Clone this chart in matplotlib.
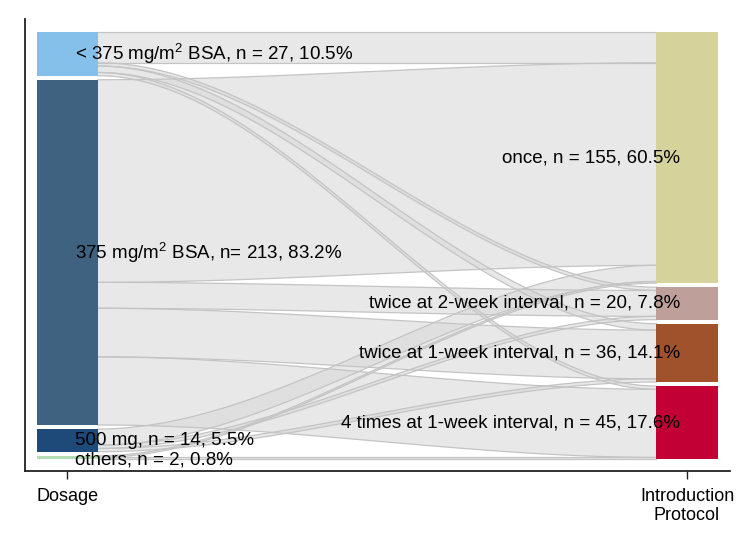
import numpy as np
import matplotlib
matplotlib.use("Agg")
import matplotlib.pyplot as plt
from matplotlib.patches import Rectangle, Polygon

plt.rcParams['font.family'] = ['Liberation Sans', 'DejaVu Sans']
plt.rcParams['mathtext.fontset'] = 'custom'
plt.rcParams['mathtext.rm'] = 'Liberation Sans'

# --- data ---
dosage = ['< 375 mg/m2 BSA', '375 mg/m2 BSA', '500 mg', 'others']
dosage_n = [27, 213, 14, 2]
dosage_labels = ['< 375 mg/m$^2$ BSA, n = 27, 10.5%',
                 '375 mg/m$^2$ BSA, n= 213, 83.2%',
                 '500 mg, n = 14, 5.5%',
                 'others, n = 2, 0.8%']
dosage_colors = ['#84c0ea', '#3e6280', '#1d4a78', '#b3deb3']

protocol = ['once', 'twice 2-week', 'twice 1-week', '4 times 1-week']
protocol_n = [155, 20, 36, 45]
protocol_labels = ['once, n = 155, 60.5%',
                   'twice at 2-week interval, n = 20, 7.8%',
                   'twice at 1-week interval, n = 36, 14.1%',
                   '4 times at 1-week interval, n = 45, 17.6%']
protocol_colors = ['#d6d29c', '#bf9f9a', '#a0522d', '#c20035']

# flows[i][j]: dosage i -> protocol j (estimated from the figure)
flows = [[19, 2, 4, 2],
         [125, 16, 30, 42],
         [10, 2, 2, 0],
         [1, 0, 0, 1]]

axis_labels = ['Dosage', 'Introduction\nProtocol']

GAP = 2.5
W = 0.0985


def stack(counts):
    tops, y = [], 0.0
    for c in counts:
        tops.append(y)
        y += c + GAP
    return tops


fig = plt.figure(figsize=(7.5, 5.46), dpi=100)
ax = fig.add_axes([25 / 750, 75 / 546, 705 / 750, 452 / 546])

left_tops = stack(dosage_n)
right_tops = stack(protocol_n)

# flow offsets: left side ordered by target, right side ordered by source
left_off = list(left_tops)
right_off = list(right_tops)
bands = []
for i in range(len(dosage)):
    for j in range(len(protocol)):
        v = flows[i][j]
        if v == 0:
            continue
        bands.append((i, j, left_off[i], v))
        left_off[i] += v
right_pos = {}
for j in range(len(protocol)):
    for i in range(len(dosage)):
        v = flows[i][j]
        if v == 0:
            continue
        right_pos[(i, j)] = right_off[j]
        right_off[j] += v

x0, x1 = W / 2, 1 - W / 2
t = np.linspace(0, 1, 100)
s = t * t * (3 - 2 * t)
xs = x0 + (x1 - x0) * t
for i, j, ly, v in bands:
    ry = right_pos[(i, j)]
    top = ly + (ry - ly) * s
    bot = top + v
    pts = np.vstack([np.column_stack([xs, top]), np.column_stack([xs[::-1], bot[::-1]])])
    ax.add_patch(Polygon(pts, closed=True, facecolor='#d9d9d9', alpha=0.6,
                         edgecolor='none', zorder=1))
    ax.plot(xs, top, color='#c4c4c4', lw=0.9, zorder=2)
    ax.plot(xs, bot, color='#c4c4c4', lw=0.9, zorder=2)

# nodes
for k in range(len(dosage)):
    ax.add_patch(Rectangle((-W / 2, left_tops[k]), W, dosage_n[k],
                           facecolor=dosage_colors[k], edgecolor='none', zorder=3))
    ax.text(0.012, left_tops[k] + dosage_n[k] / 2 + (1.5 if k == 3 else 0),
            dosage_labels[k], ha='left', va='center', fontsize=13.5, zorder=5)
for k in range(len(protocol)):
    ax.add_patch(Rectangle((1 - W / 2, right_tops[k]), W, protocol_n[k],
                           facecolor=protocol_colors[k], edgecolor='none', zorder=3))
    ax.text(0.9887, right_tops[k] + protocol_n[k] / 2,
            protocol_labels[k], ha='right', va='center', fontsize=13.5, zorder=5)

total = sum(dosage_n) + GAP * (len(dosage) - 1)
ax.set_xlim(-0.0686, 1.0694)
ax.set_ylim(total + 7.4, -8)

ax.spines['top'].set_visible(False)
ax.spines['right'].set_visible(False)
for sp in ['left', 'bottom']:
    ax.spines[sp].set_linewidth(1.3)
    ax.spines[sp].set_color('#222222')
ax.set_yticks([])
ax.set_xticks([0, 1])
ax.set_xticklabels(axis_labels, fontsize=13)
ax.tick_params(axis='x', length=6, width=1, color='#222222', pad=6)

fig.savefig('out.png', dpi=100)
